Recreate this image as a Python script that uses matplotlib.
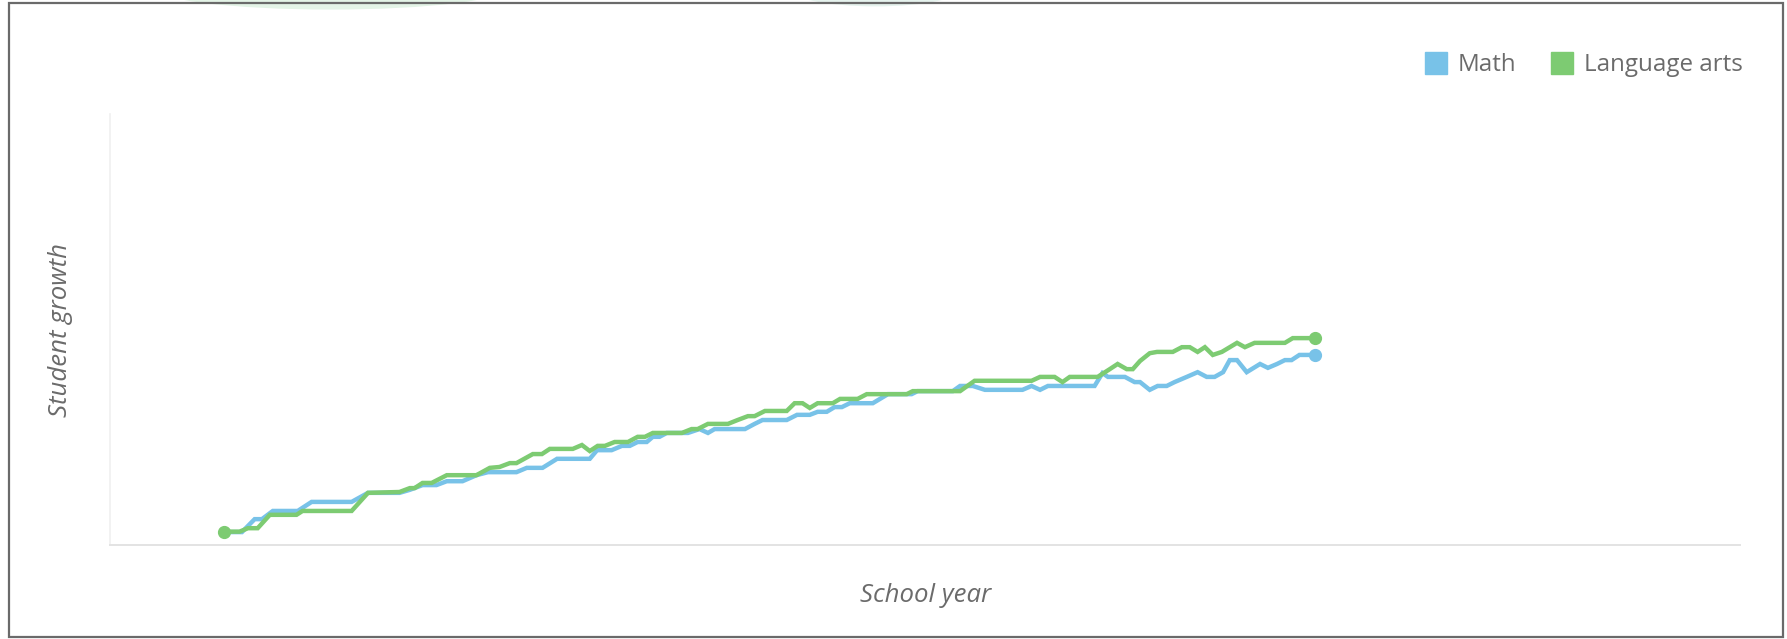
import matplotlib.pyplot as plt
from matplotlib.lines import Line2D
from matplotlib.patches import Ellipse, Rectangle

# School day of each reading and growth score (0-100 scale)
math_days = [0.0, 3.0, 5.1, 6.3, 8.1, 12.2, 14.5, 21.1, 23.8, 29.0, 30.7, 32.8, 35.1,
             36.8, 39.4, 41.7, 43.6, 48.3, 50.0, 52.6, 55.0, 60.4, 61.6, 64.0, 65.7,
             67.0, 68.3, 69.8, 70.8, 71.9, 73.1, 76.6, 78.5, 79.9, 81.0, 86.0, 87.6,
             88.9, 92.9, 94.6, 96.7, 98.0, 99.5, 100.8, 102.0, 103.3, 107.1, 109.6,
             113.5, 114.5, 120.3, 121.5, 123.6, 125.6, 131.8, 133.3, 134.7, 136.0,
             143.7, 145.0, 145.9, 148.7, 150.3, 151.2, 152.8, 154.1, 155.6, 156.9,
             158.9, 160.7, 162.2, 163.5, 164.9, 166.0, 167.2, 168.8, 171.0, 172.3,
             173.8, 175.1, 176.2, 177.5, 180.0]
math_growth = [3.0, 3.0, 6.0, 6.0, 7.9, 7.9, 10.0, 10.0, 12.1, 12.1, 12.8, 13.9, 13.9,
               14.8, 14.8, 16.2, 16.9, 16.9, 17.9, 17.9, 20.0, 20.0, 22.0, 22.0, 23.0,
               23.0, 23.9, 23.9, 25.1, 25.1, 26.0, 26.0, 26.9, 26.0, 26.9, 26.9, 28.1,
               29.0, 29.0, 30.2, 30.2, 30.9, 30.9, 32.0, 32.0, 32.9, 32.9, 35.0,
               35.0, 35.7, 35.7, 36.9, 36.9, 36.0, 36.0, 36.9, 36.0, 36.9,
               36.9, 39.9, 39.0, 39.0, 37.8, 37.8, 36.0, 36.9, 36.9, 37.8,
               39.0, 40.1, 39.0, 39.0, 40.1, 42.9, 42.9, 40.1, 42.0, 41.1,
               42.0, 42.9, 42.9, 44.1, 44.1]

lang_days = [0.0, 2.6, 4.0, 5.6, 7.6, 12.0, 13.0, 21.1, 23.8, 29.0, 30.7, 31.5, 32.8,
             34.3, 36.8, 41.7, 43.9, 45.5, 47.2, 48.3, 51.0, 52.5, 53.8, 57.6, 59.1,
             60.4, 61.7, 62.9, 64.5, 66.7, 68.3, 69.5, 70.8, 75.6, 77.2, 78.2, 79.9,
             83.2, 84.8, 86.5, 87.6, 89.3, 92.9, 94.2, 95.5, 96.7, 98.0, 100.5, 101.7,
             104.6, 106.1, 112.7, 113.7, 121.5, 123.9, 133.3, 134.7, 137.1, 138.4,
             139.6, 144.2, 146.2, 147.5, 149.0, 150.0, 151.2, 152.8, 154.0, 156.6,
             158.1, 159.4, 160.7, 161.9, 163.2, 164.7, 167.2, 168.5, 170.1, 175.1,
             176.4, 180.0]
lang_growth = [3.1, 3.1, 3.9, 3.9, 7.0, 7.0, 7.9, 7.9, 12.1, 12.3, 13.2, 13.2, 14.4,
               14.4, 16.2, 16.2, 17.9, 18.1, 19.0, 19.0, 21.1, 21.1, 22.3, 22.3, 23.2,
               21.8, 23.0, 23.0, 23.9, 23.9, 25.1, 25.1, 26.0, 26.0, 26.9, 26.9, 28.1,
               28.1, 29.0, 29.9, 29.9, 31.1, 31.1, 32.9, 32.9, 31.8, 32.9, 32.9, 33.9,
               33.9, 35.0, 35.0, 35.7, 35.7, 38.1, 38.1, 39.0, 39.0, 37.8,
               39.0, 39.0, 40.8, 42.0, 40.8, 40.8, 42.7, 44.5, 44.8, 44.8,
               45.9, 45.9, 44.8, 45.9, 44.1, 44.8, 46.9, 45.9, 46.9, 46.9,
               48.0, 48.0]

math_color = '#78c2e8'
lang_color = '#7dcb72'
text_color = '#6b6b6b'

fig = plt.figure(figsize=(17.87, 6.39), dpi=100)

# faint green shapes cut off at the top of the screenshot
fig.patches.append(Ellipse((0.185, 1.02), 0.2, 0.07, transform=fig.transFigure,
                           facecolor='#e4f4e7', edgecolor='none', zorder=0))
fig.patches.append(Ellipse((0.49, 1.02), 0.1, 0.06, transform=fig.transFigure,
                           facecolor='#e6f3ee', edgecolor='none', zorder=0))
# screenshot border
fig.patches.append(Rectangle((0.005, 0.003), 0.993, 0.993, transform=fig.transFigure,
                             fill=False, edgecolor='#6a6a6a', linewidth=1.6, zorder=5))

ax = fig.add_axes([0.0618, 0.1471, 0.9119, 0.6745])
ax.plot(math_days, math_growth, color=math_color, linewidth=3.2, solid_joinstyle='miter')
ax.plot(lang_days, lang_growth, color=lang_color, linewidth=3.2, solid_joinstyle='miter')

# end points
ax.plot([math_days[-1]], [math_growth[-1]], 'o', color=math_color, markersize=8.5)
ax.plot([lang_days[-1]], [lang_growth[-1]], 'o', color=lang_color, markersize=8.5)
ax.plot([lang_days[0]], [lang_growth[0]], 'o', color=lang_color, markersize=8.5)

ax.set_xlim(-18.7, 250.2)
ax.set_ylim(0, 100)
ax.set_xticks([])
ax.set_yticks([])
for side in ['top', 'right']:
    ax.spines[side].set_visible(False)
ax.spines['left'].set_color('#f0f0f0')
ax.spines['bottom'].set_color('#e3e3e3')
ax.spines['left'].set_linewidth(1.2)
ax.spines['bottom'].set_linewidth(1.4)

ax.set_xlabel('School year', fontsize=18.5, color=text_color, style='italic',
              family=['Open Sans', 'DejaVu Sans'], labelpad=27)
ax.set_ylabel('Student growth', fontsize=18.5, color=text_color, style='italic',
              family=['Open Sans', 'DejaVu Sans'], labelpad=27)

handles = [Line2D([], [], marker='s', linestyle='none', markersize=16,
                  markerfacecolor=math_color, markeredgecolor=math_color),
           Line2D([], [], marker='s', linestyle='none', markersize=16,
                  markerfacecolor=lang_color, markeredgecolor=lang_color)]
leg = fig.legend(handles, ['Math', 'Language arts'], loc='center right',
                 bbox_to_anchor=(0.9875, 0.898), ncol=2, frameon=False,
                 handlelength=0.9, handletextpad=0.45, columnspacing=1.45,
                 prop={'family': ['Open Sans', 'DejaVu Sans'], 'size': 17.4})
for t in leg.get_texts():
    t.set_color(text_color)

fig.savefig('out.png', dpi=100)
